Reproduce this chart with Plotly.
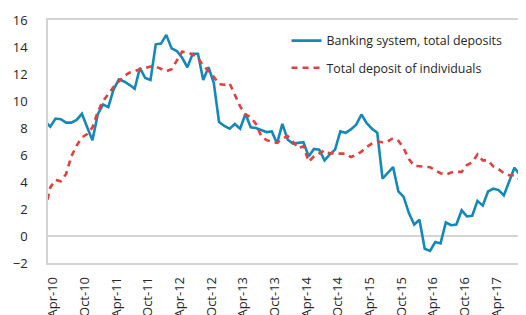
import plotly.graph_objects as go

# Monthly observations; index 0 = Mar-10 (first point sits just left of the axis)
banking_total = [
    8.5, 8.1, 8.7, 8.65, 8.4, 8.4, 8.6, 9.05, 8.05, 7.1,
    9.0, 9.75, 9.55, 10.85, 11.6, 11.45, 11.2, 10.9, 12.45, 11.7,
    11.55, 14.2, 14.25, 14.9, 13.9, 13.7, 13.2, 12.5, 13.5, 13.5,
    11.55, 12.5, 11.35, 8.45, 8.15, 7.95, 8.3, 7.95, 9.05, 8.05,
    8.0, 7.85, 7.7, 7.75, 6.85, 8.3, 7.15, 6.85, 6.9, 6.95,
    5.9, 6.45, 6.4, 5.6, 6.05, 6.4, 7.75, 7.65, 7.9, 8.25,
    9.0, 8.35, 7.95, 7.65, 4.25, 4.7, 5.1, 3.3, 2.9, 1.7,
    0.85, 1.2, -0.95, -1.1, -0.45, -0.55, 1.0, 0.8, 0.85, 1.9,
    1.45, 1.5, 2.6, 2.25, 3.3, 3.5, 3.4, 3.0, 4.0, 5.05,
    4.55, 4.7,
]
individuals_total = [
    1.9, 3.6, 4.15, 4.05, 4.6, 5.9, 6.7, 7.3, 7.55, 8.05,
    9.2, 10.0, 10.5, 11.05, 11.45, 11.85, 12.1, 12.25, 12.35, 12.45,
    12.55, 12.55, 12.35, 12.2, 12.35, 13.0, 13.65, 13.6, 13.45, 13.2,
    12.6, 12.25, 11.8, 11.25, 11.2, 11.3, 10.5, 9.6, 9.0, 8.8,
    8.3, 7.4, 7.1, 7.0, 6.9, 7.2, 7.4, 7.0, 6.5, 6.65,
    5.5, 5.9, 6.1, 6.35, 6.1, 6.15, 6.1, 6.1, 5.85, 6.0,
    6.25, 6.6, 6.85, 7.0, 6.95, 7.0, 7.25, 7.05, 6.5, 5.7,
    5.2, 5.15, 5.15, 5.1, 4.85, 4.65, 4.55, 4.7, 4.75, 4.75,
    5.25, 5.45, 6.05, 5.6, 5.6, 5.15, 4.95, 4.65, 4.5, 4.5,
    4.2, 4.5,
]
tick_labels = ["Apr-10", "Oct-10", "Apr-11", "Oct-11", "Apr-12", "Oct-12",
               "Apr-13", "Oct-13", "Apr-14", "Oct-14", "Apr-15", "Oct-15",
               "Apr-16", "Oct-16", "Apr-17", "Oct-17"]
y_ticks = [-2, 0, 2, 4, 6, 8, 10, 12, 14, 16]

x_idx = list(range(len(banking_total)))
tick_pos = [1 + 6 * k for k in range(len(tick_labels))]

FONT = "Open Sans"
BLUE = "#1588BA"
RED = "#E0403E"
GRID = "#D4D4D4"
TXT = "#262626"

fig = go.Figure()
fig.add_trace(go.Scatter(
    x=x_idx, y=banking_total, mode="lines",
    name="Banking system, total deposits", legendgroup="a",
    line=dict(color=BLUE, width=2.6),
))
fig.add_trace(go.Scatter(
    x=x_idx, y=individuals_total, mode="lines",
    name="Total deposit of individuals", legendgroup="b",
    line=dict(color=RED, width=2.6, dash="6px,5px"),
))

# page body has an 8px default margin, so the figure is 8px smaller on each axis
fig.update_layout(
    width=518, height=307,
    margin=dict(l=40, r=0, t=12, b=52, pad=0, autoexpand=False),
    paper_bgcolor="white", plot_bgcolor="white",
    font=dict(family=FONT, size=13, color=TXT),
    showlegend=True,
    legend=dict(
        x=0.499, y=0.975, xanchor="left", yanchor="top",
        bgcolor="rgba(0,0,0,0)", font=dict(family=FONT, size=12.4, color=TXT),
        tracegroupgap=8, itemwidth=30,
    ),
    xaxis=dict(
        range=[0.57, 91.2], tickmode="array", tickvals=tick_pos, ticktext=tick_labels,
        tickangle=-90, showgrid=False, zeroline=False, automargin=False,
        showline=True, linecolor=GRID, linewidth=1.5, mirror=True,
        ticks="", ticklabelstandoff=7, ticklabelshift=3,
        tickfont=dict(family=FONT, size=13, color=TXT),
    ),
    yaxis=dict(
        range=[-2, 16], tickmode="array", tickvals=y_ticks, automargin=False,
        showgrid=False, zeroline=True, zerolinecolor=GRID, zerolinewidth=1.5,
        showline=True, linecolor=GRID, linewidth=1.5,
        ticks="", ticklabelstandoff=16,
        tickfont=dict(family=FONT, size=13, color=TXT),
    ),
)

fig.write_html("out.html")
